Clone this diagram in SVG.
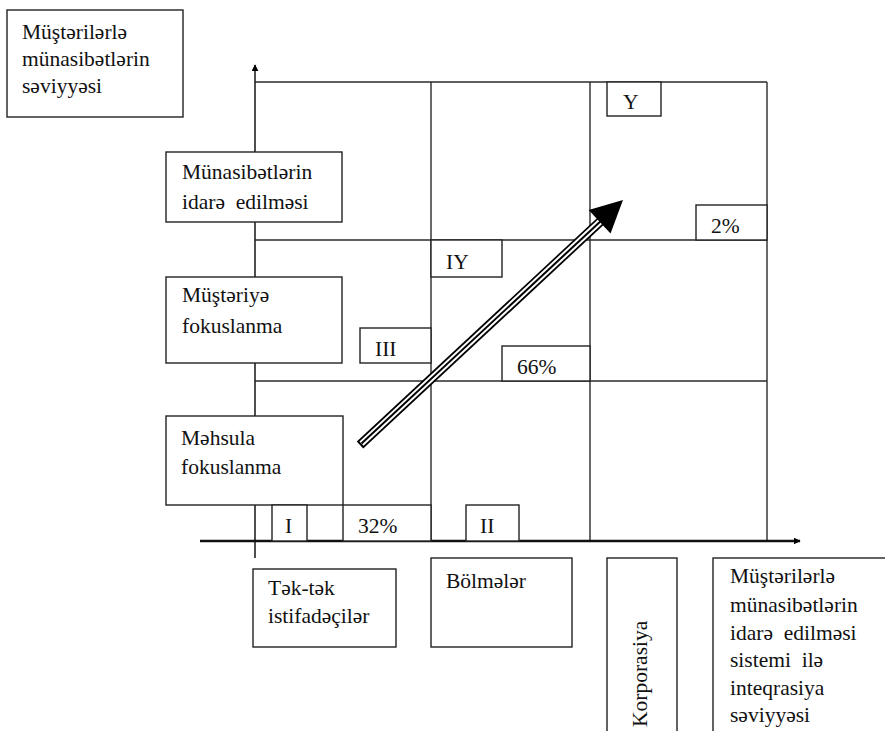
<svg xmlns="http://www.w3.org/2000/svg" width="885" height="731" viewBox="0 0 885 731">
  <defs>
    <style>
      .box { fill: #fff; stroke: #222; stroke-width: 1.4; }
      .grid { stroke: #2a2a2a; stroke-width: 1.4; fill: none; }
      .lbl { font-family: "Liberation Serif", "Times New Roman", serif; font-size: 21.5px; fill: #111; white-space: pre; }
    </style>
    <marker id="axisHead" viewBox="0 0 10 10" refX="9" refY="5" markerWidth="7" markerHeight="7" markerUnits="userSpaceOnUse" orient="auto">
      <path d="M0,0 L10,5 L0,10 Z" fill="#000"/>
    </marker>
  </defs>

  <rect width="885" height="731" fill="#fff"/>

  <!-- quadrant grid -->
  <g id="grid" class="grid">
    <line x1="255" y1="82" x2="767" y2="82"/>
    <line x1="255" y1="240" x2="767" y2="240"/>
    <line x1="255" y1="381" x2="767" y2="381"/>
    <line x1="431" y1="82" x2="431" y2="541"/>
    <line x1="590" y1="82" x2="590" y2="541"/>
    <line x1="767" y1="82" x2="767" y2="541"/>
  </g>

  <!-- axes and trend arrow -->
  <g id="connectors">
    <line x1="255" y1="558" x2="255" y2="65" stroke="#222" stroke-width="1.6" marker-end="url(#axisHead)"/>
    <line x1="200" y1="541" x2="800" y2="541" stroke="#111" stroke-width="2.6" marker-end="url(#axisHead)"/>
    <g id="trend-arrow">
      <line x1="360" y1="445" x2="602" y2="220" stroke="#000" stroke-width="9.5"/>
      <line x1="361.5" y1="443.6" x2="603" y2="219" stroke="#fff" stroke-width="6"/>
      <line x1="361.5" y1="443.6" x2="603" y2="219" stroke="#000" stroke-width="2"/>
      <polygon points="623,200 610.5,233.5 588.7,210.1" fill="#000"/>
    </g>
  </g>

  <!-- axis titles -->
  <g id="y-title">
    <rect class="box" x="7" y="10" width="176" height="107"/>
    <text class="lbl" x="22" y="39">Müştərilərlə</text>
    <text class="lbl" x="22" y="66">münasibətlərin</text>
    <text class="lbl" x="22" y="93">səviyyəsi</text>
  </g>

  <!-- levels on the vertical axis -->
  <g id="level-management">
    <rect class="box" x="166" y="152" width="176" height="70"/>
    <text class="lbl" x="182" y="179">Münasibətlərin</text>
    <text class="lbl" x="182" y="209">idarə  edilməsi</text>
  </g>
  <g id="level-customer">
    <rect class="box" x="166" y="277" width="176" height="86"/>
    <text class="lbl" x="182" y="302">Müştəriyə</text>
    <text class="lbl" x="182" y="333">fokuslanma</text>
  </g>
  <g id="level-product">
    <rect class="box" x="166" y="416" width="177" height="89"/>
    <text class="lbl" x="181" y="445">Məhsula</text>
    <text class="lbl" x="181" y="474">fokuslanma</text>
  </g>

  <!-- stage markers -->
  <g id="stage-1">
    <rect class="box" x="272" y="505" width="35" height="36"/>
    <text class="lbl" x="285" y="533">I</text>
  </g>
  <g id="share-32">
    <rect class="box" x="343" y="505" width="88" height="36"/>
    <text class="lbl" x="358" y="533">32%</text>
  </g>
  <g id="stage-2">
    <rect class="box" x="466" y="505" width="53" height="36"/>
    <text class="lbl" x="480" y="533">II</text>
  </g>
  <g id="stage-3">
    <rect class="box" x="360" y="328" width="71" height="35"/>
    <text class="lbl" x="375" y="356">III</text>
  </g>
  <g id="stage-4">
    <rect class="box" x="431" y="240" width="71" height="37"/>
    <text class="lbl" x="446" y="269">IY</text>
  </g>
  <g id="share-66">
    <rect class="box" x="502" y="346" width="88" height="35"/>
    <text class="lbl" x="517" y="374">66%</text>
  </g>
  <g id="stage-5">
    <rect class="box" x="607" y="82" width="54" height="34"/>
    <text class="lbl" x="623" y="109">Y</text>
  </g>
  <g id="share-2">
    <rect class="box" x="696" y="205" width="71" height="35"/>
    <text class="lbl" x="711" y="233">2%</text>
  </g>

  <!-- levels on the horizontal axis -->
  <g id="scope-individual">
    <rect class="box" x="253" y="569" width="143" height="78"/>
    <text class="lbl" x="268" y="595">Tək-tək</text>
    <text class="lbl" x="268" y="623">istifadəçilər</text>
  </g>
  <g id="scope-division">
    <rect class="box" x="431" y="558" width="141" height="89"/>
    <text class="lbl" x="446" y="588">Bölmələr</text>
  </g>
  <g id="scope-corporation">
    <rect class="box" x="607" y="558" width="70" height="190"/>
    <text class="lbl" transform="translate(647,727) rotate(-90)">Korporasiya</text>
  </g>
  <g id="x-title">
    <rect class="box" x="713" y="558" width="190" height="190"/>
    <text class="lbl" x="730" y="583">Müştərilərlə</text>
    <text class="lbl" x="730" y="612">münasibətlərin</text>
    <text class="lbl" x="730" y="640">idarə  edilməsi</text>
    <text class="lbl" x="730" y="667">sistemi  ilə</text>
    <text class="lbl" x="730" y="695">inteqrasiya</text>
    <text class="lbl" x="730" y="722">səviyyəsi</text>
  </g>
</svg>
